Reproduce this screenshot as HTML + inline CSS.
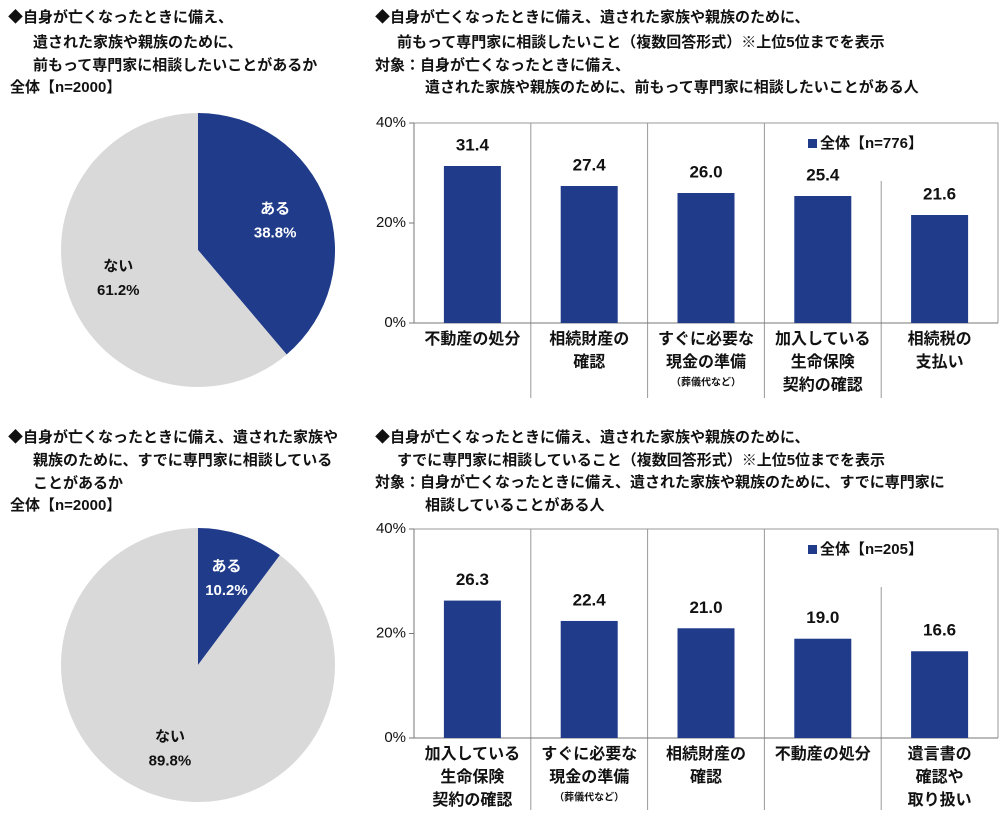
<!DOCTYPE html>
<html><head><meta charset="utf-8">
<style>
html,body{margin:0;padding:0;background:#fff;}
svg{display:block;font-family:"Liberation Sans","Noto Sans CJK JP",sans-serif;font-weight:bold;}
</style></head>
<body>
<svg id="s" width="1000" height="828" viewBox="0 0 1000 828" xmlns="http://www.w3.org/2000/svg">
<g font-size="15" fill="#111" dominant-baseline="middle">
<text x="8" y="18">◆自身が亡くなったときに備え、</text>
<text x="33" y="43">遺された家族や親族のために、</text>
<text x="33" y="66">前もって専門家に相談したいことがあるか</text>
<text x="10" y="88">全体【n=2000】</text>
<text x="375" y="18">◆自身が亡くなったときに備え、遺された家族や親族のために、</text>
<text x="397" y="43">前もって専門家に相談したいこと（複数回答形式）※上位5位までを表示</text>
<text x="375" y="66">対象：自身が亡くなったときに備え、</text>
<text x="425" y="88">遺された家族や親族のために、前もって専門家に相談したいことがある人</text>
<text x="8" y="438">◆自身が亡くなったときに備え、遺された家族や</text>
<text x="33" y="461">親族のために、すでに専門家に相談している</text>
<text x="33" y="484">ことがあるか</text>
<text x="10" y="506">全体【n=2000】</text>
<text x="375" y="438">◆自身が亡くなったときに備え、遺された家族や親族のために、</text>
<text x="397" y="461">すでに専門家に相談していること（複数回答形式）※上位5位までを表示</text>
<text x="375" y="483">対象：自身が亡くなったときに備え、遺された家族や親族のために、すでに専門家に</text>
<text x="425" y="506">相談していることがある人</text>
</g>
<g id="charts"></g>
</svg>
<script>
const pie1Labels = ["ある","ない"];
const pie1Values = [38.8, 61.2];
const pie2Labels = ["ある","ない"];
const pie2Values = [10.2, 89.8];
const bar1Categories = [["不動産の処分"],["相続財産の","確認"],["すぐに必要な","現金の準備","（葬儀代など）"],["加入している","生命保険","契約の確認"],["相続税の","支払い"]];
const bar1Values = [31.4, 27.4, 26.0, 25.4, 21.6];
const bar2Categories = [["加入している","生命保険","契約の確認"],["すぐに必要な","現金の準備","（葬儀代など）"],["相続財産の","確認"],["不動産の処分"],["遺言書の","確認や","取り扱い"]];
const bar2Values = [26.3, 22.4, 21.0, 19.0, 16.6];
const yTicks = [0, 20, 40];
const bar1Legend = "全体【n=776】";
const bar2Legend = "全体【n=205】";

const NS = "http://www.w3.org/2000/svg";
const root = document.getElementById("charts");
const BLUE = "#1f3b8a", GRAY = "#d9d9d9";
function mk(tag, attrs, parent) {
  const e = document.createElementNS(NS, tag);
  for (const k in attrs) e.setAttribute(k, attrs[k]);
  (parent || root).appendChild(e);
  return e;
}
function drawPie(cx, cy, r, labels, values, labelPos, prefix) {
  const total = values.reduce((a, b) => a + b, 0);
  let a0 = -Math.PI / 2;
  values.forEach((v, i) => {
    const a1 = a0 + v / total * 2 * Math.PI;
    const large = (a1 - a0) > Math.PI ? 1 : 0;
    const d = `M${cx},${cy} L${cx + r * Math.cos(a0)},${cy + r * Math.sin(a0)} A${r},${r} 0 ${large} 1 ${cx + r * Math.cos(a1)},${cy + r * Math.sin(a1)} Z`;
    const p = mk("path", {d: d, fill: i === 0 ? BLUE : GRAY});
    
    
    const am = (a0 + a1) / 2, f = labelPos[i];
    const lx = cx + r * f * Math.cos(am), ly = cy + r * f * Math.sin(am);
    const t1 = mk("text", {x: lx, y: ly - 12, "text-anchor": "middle", "dominant-baseline": "middle", "font-size": "15", fill: i === 0 ? "#fff" : "#111"});
    t1.textContent = labels[i];
    
    
    const t2 = mk("text", {x: lx, y: ly + 12, "text-anchor": "middle", "dominant-baseline": "middle", "font-size": "15", fill: i === 0 ? "#fff" : "#111"});
    t2.textContent = values[i].toFixed(1) + "%";
    
    
    a0 = a1;
  });
}
drawPie(198, 250, 137, pie1Labels, pie1Values, [0.6, 0.62], "pie1");
drawPie(198, 665, 137, pie2Labels, pie2Values, [0.66, 0.65], "pie2");

function drawBar(top, bottom, sepBottom, cats, vals, legend, prefix) {
  const left = 414, right = 998, n = cats.length, w = (right - left) / n, bw = 57;
  const y = v => bottom - (v / 40) * (bottom - top);
  const x = i => left + w * (i + 0.5);
  const fr = mk("path", {d: `M${left},${top} H${right} V${bottom}`, stroke: "#999", fill: "none", "stroke-width": 1});
  
  
  for (let i = 1; i < n; i++) {
    const sx = left + w * i;
    const st = (i === n - 1) ? top + 58 : top;
    const s = mk("line", {x1: sx, x2: sx, y1: st, y2: sepBottom, stroke: "#999", "stroke-width": 1});
    
    
  }
  const ax = mk("line", {x1: left, x2: left, y1: top, y2: bottom, stroke: "#777"});
  
  
  const xa = mk("line", {x1: left - 5, x2: right, y1: bottom, y2: bottom, stroke: "#777"});
  
  
  yTicks.forEach(t => {
    const tk = mk("line", {x1: left - 5, x2: left, y1: y(t), y2: y(t), stroke: "#777"});
    
    
    const tl = mk("text", {x: left - 8, y: y(t), "text-anchor": "end", "dominant-baseline": "middle", "font-size": "15", "font-weight": "normal", fill: "#111"});
    tl.textContent = t + "%";
    
    
  });
  vals.forEach((v, i) => {
    const b = mk("rect", {x: x(i) - bw / 2, y: y(v), width: bw, height: bottom - y(v), fill: BLUE});
    
    
    const vl = mk("text", {x: x(i), y: y(v) - 20, "text-anchor": "middle", "dominant-baseline": "middle", "font-size": "17", fill: "#111"});
    vl.textContent = v.toFixed(1);
    
    
    cats[i].forEach((line, j) => {
      const small = line.startsWith("（");
      const cl = mk("text", {x: x(i), y: bottom + 17 + j * 23 - (small ? 3 : 0), "text-anchor": "middle", "dominant-baseline": "middle", "font-size": small ? "10" : "16", fill: "#111"});
      cl.textContent = line;
      
      
    });
  });
  const lg = mk("rect", {x: 808, y: top + 16, width: 9, height: 9, fill: BLUE});
  
  
  const lt = mk("text", {x: 820, y: top + 21, "dominant-baseline": "middle", "font-size": "15", fill: "#111"});
  lt.textContent = legend;
  
  
}
drawBar(123, 323, 398, bar1Categories, bar1Values, bar1Legend, "bar1");
drawBar(529, 738, 810, bar2Categories, bar2Values, bar2Legend, "bar2");
</script>
</body></html>
